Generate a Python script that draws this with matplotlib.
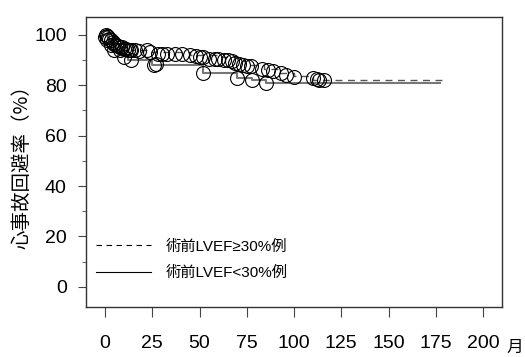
import matplotlib
matplotlib.use("Agg")
import matplotlib.pyplot as plt
from matplotlib.ticker import MultipleLocator

plt.rcParams["font.family"] = ["Liberation Sans", "Noto Sans CJK JP", "DejaVu Sans"]

# LVEF >= 30% : step curve (dashed)
hi_times = [0, 1, 2, 3, 5, 8, 15, 22, 45, 60, 70, 74, 84, 92, 100, 110, 181]
hi_surv = [100, 99, 98, 97, 96, 95, 94, 93, 92, 91, 89.5, 88, 86.5, 85, 83.5, 82, 82]
hi_cens_t = [0.5, 1, 1.5, 2, 3, 4, 5, 6, 7, 8, 9, 10, 11, 12, 13, 14, 16, 18, 22, 24,
             28, 30, 33, 37, 41, 45, 48, 50, 52, 55, 58, 60, 63, 65, 67, 69, 71, 73,
             75, 77, 83, 86, 89, 93, 96, 100, 110, 112, 116]
hi_cens_v = [100, 99.5, 99, 98.5, 98, 97, 96.5, 96, 95.5, 95, 95, 94.5, 94.5, 94, 94,
             94, 94, 93.5, 94, 93, 92.5, 92.5, 92.5, 92.5, 92.5, 92, 91.5, 91, 91,
             90.5, 90.5, 90.5, 90, 90, 89.5, 89, 88.5, 88, 87.5, 87.5, 86.6, 85.9,
             85.6, 84.8, 84.2, 83.4, 83, 82.5, 82]

# LVEF < 30% : step curve (solid)
lo_times = [0, 2, 4, 6, 9, 12, 25, 52, 70, 78, 85, 177]
lo_surv = [100, 98, 96, 94, 92, 90, 88, 85, 83, 82, 81, 81]
lo_cens_t = [0, 1, 3, 5, 8, 10, 14, 26, 27, 52, 70, 78, 85, 113]
lo_cens_v = [99, 98, 96, 94, 94, 91, 90, 88, 88.5, 85, 83, 82, 81, 82]

fig = plt.figure(figsize=(5.25, 3.57), dpi=100)
ax = fig.add_axes([0.164, 0.14, 0.792, 0.812])

ax.step(hi_times, hi_surv, where="post", color="#555555", lw=1.0, ls=(0, (5, 4)),
        label="術前LVEF≥30%例")
ax.step(lo_times, lo_surv, where="post", color="#777777", lw=1.5,
        label="術前LVEF<30%例")
ax.plot(hi_cens_t, hi_cens_v, "o", ms=10, mfc="none", mec="black", mew=0.8)
ax.plot(lo_cens_t, lo_cens_v, "o", ms=10, mfc="none", mec="black", mew=0.8)

ax.set_xlim(-10, 210)
ax.set_ylim(-8, 107)
ax.set_xticks(range(0, 201, 25))
ax.set_yticks(range(0, 101, 20))
ax.yaxis.set_minor_locator(MultipleLocator(10))
ax.tick_params(axis="x", direction="out", length=7, pad=13, labelsize=14, color="#444444")
ax.tick_params(axis="y", which="major", direction="out", length=6, pad=8, labelsize=14,
               color="#444444")
ax.tick_params(axis="y", which="minor", direction="out", length=3, color="#444444")
for s in ax.spines.values():
    s.set_color("#333333")
    s.set_linewidth(1.0)

ax.set_ylabel("心事故回避率（%）", fontsize=14, family=["Noto Sans CJK JP", "DejaVu Sans"],
              labelpad=1)
fig.text(0.981, 0.027, "月", fontsize=12, family=["Noto Sans CJK JP", "DejaVu Sans"],
         ha="center", va="center")

leg = ax.legend(loc="lower left", bbox_to_anchor=(-0.01, 0.045), frameon=False,
                handlelength=3.6, handletextpad=1.0, labelspacing=0.8,
                prop={"family": ["Liberation Sans", "Noto Sans CJK JP", "DejaVu Sans"],
                      "size": 11})
for line in leg.get_lines():
    line.set_color("black")
    line.set_linewidth(0.8)

fig.savefig("out.png", dpi=100)
